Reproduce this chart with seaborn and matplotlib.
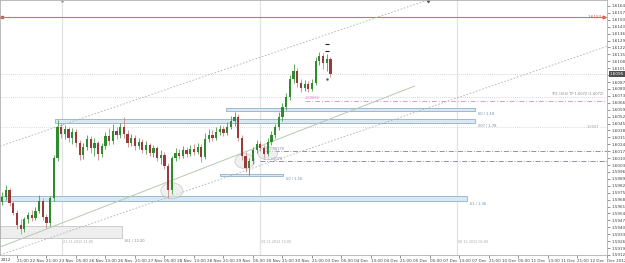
import numpy as np
import pandas as pd
import matplotlib
matplotlib.use("Agg")
import matplotlib.pyplot as plt
import seaborn as sns
from matplotlib.patches import Rectangle, Ellipse

### Données OHLC (H1)
opens = [1.5966, 1.5971, 1.5978, 1.5965, 1.5955, 1.5942, 1.5938, 1.5948, 1.5952, 1.5949,
         1.5957, 1.5967, 1.5950, 1.5944, 1.5970, 1.6010, 1.6042, 1.6034, 1.6039, 1.6030,
         1.6036, 1.6025, 1.6013, 1.6021, 1.6029, 1.6020, 1.6025, 1.6014, 1.6022, 1.6032,
         1.6027, 1.6037, 1.6033, 1.6042, 1.6034, 1.6025, 1.6030, 1.6022, 1.6026, 1.6018,
         1.6023, 1.6015, 1.6020, 1.6010, 1.6013, 1.6002, 1.5978, 1.6010, 1.6015, 1.6012,
         1.6018, 1.6014, 1.6019, 1.6016, 1.6021, 1.6011, 1.6029, 1.6033, 1.6030, 1.6036,
         1.6039, 1.6035, 1.6042, 1.6048, 1.6052, 1.6030, 1.6012, 1.6000, 1.6007, 1.6018,
         1.6024, 1.6020, 1.6014, 1.6026, 1.6033, 1.6041, 1.6052, 1.6062, 1.6072, 1.6090,
         1.6098, 1.6086, 1.6081, 1.6085, 1.6080, 1.6086, 1.6108, 1.6113, 1.6106, 1.6110]
highs = [1.5976, 1.5983, 1.5980, 1.5967, 1.5958, 1.5948, 1.5950, 1.5956, 1.5958, 1.5961,
         1.5973, 1.5970, 1.5953, 1.5972, 1.6013, 1.6049, 1.6046, 1.6044, 1.6042, 1.6040,
         1.6039, 1.6028, 1.6025, 1.6033, 1.6032, 1.6030, 1.6027, 1.6025, 1.6036, 1.6040,
         1.6045, 1.6042, 1.6046, 1.6052, 1.6038, 1.6034, 1.6033, 1.6030, 1.6029, 1.6027,
         1.6025, 1.6023, 1.6022, 1.6018, 1.6016, 1.6005, 1.6012, 1.6020, 1.6019, 1.6022,
         1.6021, 1.6023, 1.6024, 1.6025, 1.6024, 1.6035, 1.6039, 1.6038, 1.6041, 1.6044,
         1.6043, 1.6047, 1.6053, 1.6057, 1.6055, 1.6033, 1.6016, 1.6010, 1.6021, 1.6028,
         1.6027, 1.6023, 1.6030, 1.6037, 1.6045, 1.6057, 1.6066, 1.6076, 1.6094, 1.6105,
         1.6101, 1.6090, 1.6089, 1.6088, 1.6090, 1.6112, 1.6117, 1.6116, 1.6115, 1.6112]
lows = [1.5963, 1.5968, 1.5962, 1.5952, 1.5938, 1.5933, 1.5935, 1.5944, 1.5946, 1.5947,
        1.5955, 1.5947, 1.5939, 1.5941, 1.5967, 1.6007, 1.6030, 1.6029, 1.6026, 1.6024,
        1.6021, 1.6008, 1.6009, 1.6018, 1.6015, 1.6012, 1.6008, 1.6011, 1.6019, 1.6023,
        1.6024, 1.6029, 1.6030, 1.6030, 1.6021, 1.6022, 1.6018, 1.6019, 1.6015, 1.6014,
        1.6012, 1.6011, 1.6007, 1.6004, 1.5999, 1.5970, 1.5974, 1.6007, 1.6009, 1.6010,
        1.6011, 1.6012, 1.6013, 1.6014, 1.6006, 1.6009, 1.6026, 1.6027, 1.6028, 1.6033,
        1.6032, 1.6033, 1.6039, 1.6043, 1.6027, 1.6008, 1.5996, 1.5993, 1.6004, 1.6015,
        1.6017, 1.6011, 1.6012, 1.6023, 1.6030, 1.6038, 1.6048, 1.6059, 1.6069, 1.6086,
        1.6082, 1.6077, 1.6078, 1.6077, 1.6078, 1.6084, 1.6104, 1.6100, 1.6098, 1.6092]
closes = [1.5971, 1.5978, 1.5965, 1.5955, 1.5942, 1.5938, 1.5948, 1.5952, 1.5949, 1.5957,
          1.5967, 1.5950, 1.5944, 1.5970, 1.6010, 1.6042, 1.6034, 1.6039, 1.6030, 1.6036,
          1.6025, 1.6013, 1.6021, 1.6029, 1.6020, 1.6025, 1.6014, 1.6022, 1.6032, 1.6027,
          1.6037, 1.6033, 1.6042, 1.6034, 1.6025, 1.6030, 1.6022, 1.6026, 1.6018, 1.6023,
          1.6015, 1.6020, 1.6010, 1.6013, 1.6002, 1.5978, 1.6010, 1.6015, 1.6012, 1.6018,
          1.6014, 1.6019, 1.6016, 1.6021, 1.6011, 1.6029, 1.6033, 1.6030, 1.6036, 1.6039,
          1.6035, 1.6042, 1.6048, 1.6052, 1.6030, 1.6012, 1.6000, 1.6007, 1.6018, 1.6024,
          1.6020, 1.6014, 1.6026, 1.6033, 1.6041, 1.6052, 1.6062, 1.6072, 1.6090, 1.6098,
          1.6086, 1.6081, 1.6085, 1.6080, 1.6086, 1.6108, 1.6113, 1.6106, 1.6110, 1.6095]

### Axe des temps
time_ticks = [4, 12, 20, 28, 36, 44, 52, 60, 68, 76, 84, 92, 100, 108, 116, 124, 132, 140, 148, 156, 164]
time_labels = ["21:00 22 Nov", "21:00 23 Nov", "05:00 26 Nov", "13:00 26 Nov", "21:00 27 Nov",
               "05:00 28 Nov", "13:00 28 Nov", "21:00 29 Nov", "05:00 30 Nov", "21:00 30 Nov",
               "21:00 03 Dec", "05:00 04 Dec", "13:00 04 Dec", "21:00 05 Dec", "05:00 07 Dec",
               "13:00 07 Dec", "21:00 10 Dec", "05:00 11 Dec", "13:00 11 Dec", "21:00 12 Dec",
               "Dec 2012"]
price_ticks = [round(1.6164 - 0.0007 * k, 4) for k in range(37)]

### Niveaux et objets dessinés
red_level = 1.6153
tp_level = 1.6072
pink_level = 1.6068
mid_level = 1.6041
f_level = 1.6017
tp1_level = 1.6007
zones = [  # debut, fin, bas, haut, texte
    (60.7, 128.1, 1.6058, 1.6061, "60 / 1:18"),
    (14.3, 128.1, 1.6046, 1.6050, "207 / 1:78"),
    (-0.6, 126.0, 1.5967, 1.5972, "61 / 1:36"),
    (59.0, 76.1, 1.5992, 1.5994, "50 / 1:16"),
]
gray_box = (-0.6, 32.5, 1.5929, 1.5941, "161 / 12:20")
trend_x = [-0.6, 111.9]
trend_y = [1.5920, 1.6083]
upper_x = [-0.6, 115.4]
upper_y = [1.6022, 1.6170]
lower_x = [-0.6, 163.9]
lower_y = [1.5912, 1.6123]
ellipses = [(46, 1.5977, 6.0, 0.0016), (65.8, 1.6007, 5.4, 0.0015), (72, 1.6015, 5.4, 0.0013)]
vlines_x = [16.2, 69.9, 123.3]
vlines_txt = ["21.11.2012 21:00", "29.11.2012 13:00", "06.12.2012 05:00"]

df = pd.DataFrame({"open": opens, "high": highs, "low": lows, "close": closes})
df["bar"] = np.arange(len(df))
df["up"] = df["close"] >= df["open"]

sns.set_theme(style="white")
plt.rcParams["font.family"] = ["DejaVu Sans"]

fig = plt.figure(figsize=(6.25, 2.63), dpi=100)
ax = fig.add_axes([0, 8 / 263, 607 / 625, 255 / 263])

### Bougies
up = df[df["up"]]
dn = df[~df["up"]]
ax.vlines(up["bar"], up["low"], up["high"], color="#4c9a4c", lw=0.6, zorder=4)
ax.vlines(dn["bar"], dn["low"], dn["high"], color="#c48a8a", lw=0.6, zorder=4)
ax.bar(up["bar"], up["close"] - up["open"], bottom=up["open"], width=0.6,
       color="#2e8b2e", linewidth=0, zorder=5)
ax.bar(dn["bar"], dn["open"] - dn["close"], bottom=dn["close"], width=0.6,
       color="#9b3a3a", linewidth=0, zorder=5)

# fractales
ax.plot([88, 88], [1.6125, 1.6118], ls="none", marker="_", ms=2.5, color="#222", mew=0.8)
ax.plot([88], [1.6090], ls="none", marker=".", ms=1.5, color="#555")

### Lignes horizontales
ax.axhline(red_level, color="#dc6a66", lw=0.8, zorder=3)
ax.plot([0], [red_level], marker="s", ms=2, color="#d9534f", clip_on=False)
ax.text(162.5, red_level, f"{red_level:.4f}", color="#d9534f", fontsize=3, ha="right", va="center")
ax.plot([163.3], [red_level], marker=">", ms=2, color="#d9534f")
ax.axhline(closes[-1], color="#c8c8c8", lw=0.6, ls=(0, (1, 1.5)))
ax.axhline(tp_level, color="#c8c8c8", lw=0.6, ls=(0, (1, 1.5)))
ax.text(163, tp_level + 0.0001, f"TP2 (164) TP {tp_level:.4f} ({tp_level:.4f})", fontsize=2.6,
        color="#888", ha="right", va="bottom")
ax.plot([82, 164], [pink_level, pink_level], color="#d89ad8", lw=0.7, ls=(0, (5, 2, 1, 2)))
ax.text(82, pink_level + 0.0001, f"{pink_level:.5f}", fontsize=2.6, color="#c98ac9", va="bottom")
ax.axhline(mid_level, color="#d0d0d0", lw=0.6, ls=(0, (1, 1.5)))
ax.text(162, mid_level, f"{mid_level:.4f}", fontsize=2.6, color="#999", ha="right", va="center",
        bbox=dict(facecolor="white", edgecolor="none", pad=0.3))
ax.plot([71.2, 164], [f_level, f_level], color="#8080a0", lw=0.6, ls=(0, (6, 2, 1, 2)))
ax.text(71.5, f_level + 0.00005, f"F {f_level:.5f}", fontsize=2.6, color="#8a7ab8", va="bottom")
ax.plot([69.9, 164], [tp1_level, tp1_level], color="#8080a0", lw=0.6, ls=(0, (6, 2, 1, 2)))
ax.text(70.5, tp1_level + 0.00005, f"TP {tp1_level:.5f}", fontsize=2.6, color="#8a7ab8", va="bottom")

### Zones
for x0, x1, lo, hi, txt in zones:
    ax.add_patch(Rectangle((x0, lo), x1 - x0, hi - lo, facecolor="#d9e8f3",
                           edgecolor="#8fb2c9", lw=0.6, zorder=2))
    ax.text(x1 + 0.8, lo - 0.0001, txt, fontsize=2.6, color="#6d8fa8", va="top")
x0, x1, lo, hi, txt = gray_box
ax.add_patch(Rectangle((x0, lo), x1 - x0, hi - lo, facecolor="#eeeeee",
                       edgecolor="#c4c4c4", lw=0.6, zorder=2))
ax.text(x1 + 0.5, lo - 0.0001, txt, fontsize=2.6, color="#888", va="top")

### Canal et tendances
ax.plot(trend_x, trend_y, color="#b8c8b0", lw=0.7, zorder=3)
ax.plot(upper_x, upper_y, color="#b0b0b0", lw=0.6, ls=(0, (2, 2)), zorder=3)
ax.plot(lower_x, lower_y, color="#b0b0b0", lw=0.6, ls=(0, (2, 2)), zorder=3)
for cx, cy, w, h in ellipses:
    ax.add_patch(Ellipse((cx, cy), w, h, facecolor="#e6e6e6", edgecolor="#a8a8a8",
                         lw=0.5, alpha=0.6, zorder=3))

### Séparateurs verticaux
for vx, vt in zip(vlines_x, vlines_txt):
    ax.axvline(vx, color="#e2e2e2", lw=0.9, zorder=1)
    ax.text(vx + 0.3, 1.5925, vt, fontsize=2.4, color="#aaa", va="center")
ax.plot([16.2], [1.6169], marker="+", ms=2, color="#999")
ax.plot([115.4], [1.6169], marker="v", ms=1.8, color="#555", clip_on=False)

### Axes
ax.set_xlim(-0.6, 163.9)
ax.set_ylim(1.5915, 1.6170)
ax.yaxis.tick_right()
ax.set_yticks(price_ticks)
ax.set_yticklabels([f"{p:.4f}" for p in price_ticks], fontsize=3, color="#444")
ax.set_xticks(time_ticks)
ax.set_xticklabels(time_labels, fontsize=3, color="#444", ha="left")
ax.tick_params(axis="both", length=2, width=0.5, pad=1, colors="#666", labelcolor="#444",
               bottom=True, right=True, left=False)
ax.annotate("2012", xy=(0, 0), xycoords="axes fraction", xytext=(0.5, -2.2),
            textcoords="offset points", fontsize=3, color="#444", va="top")
ax.text(1.005, closes[-1], f"{closes[-1]:.4f}", transform=ax.get_yaxis_transform(),
        fontsize=3, color="white", va="center", ha="left", zorder=10,
        bbox=dict(facecolor="#505050", edgecolor="none", pad=0.6), clip_on=False)
for s in ax.spines.values():
    s.set_color("#b0b0b0")
    s.set_linewidth(0.6)

fig.savefig("out.png", dpi=100, facecolor="white")
